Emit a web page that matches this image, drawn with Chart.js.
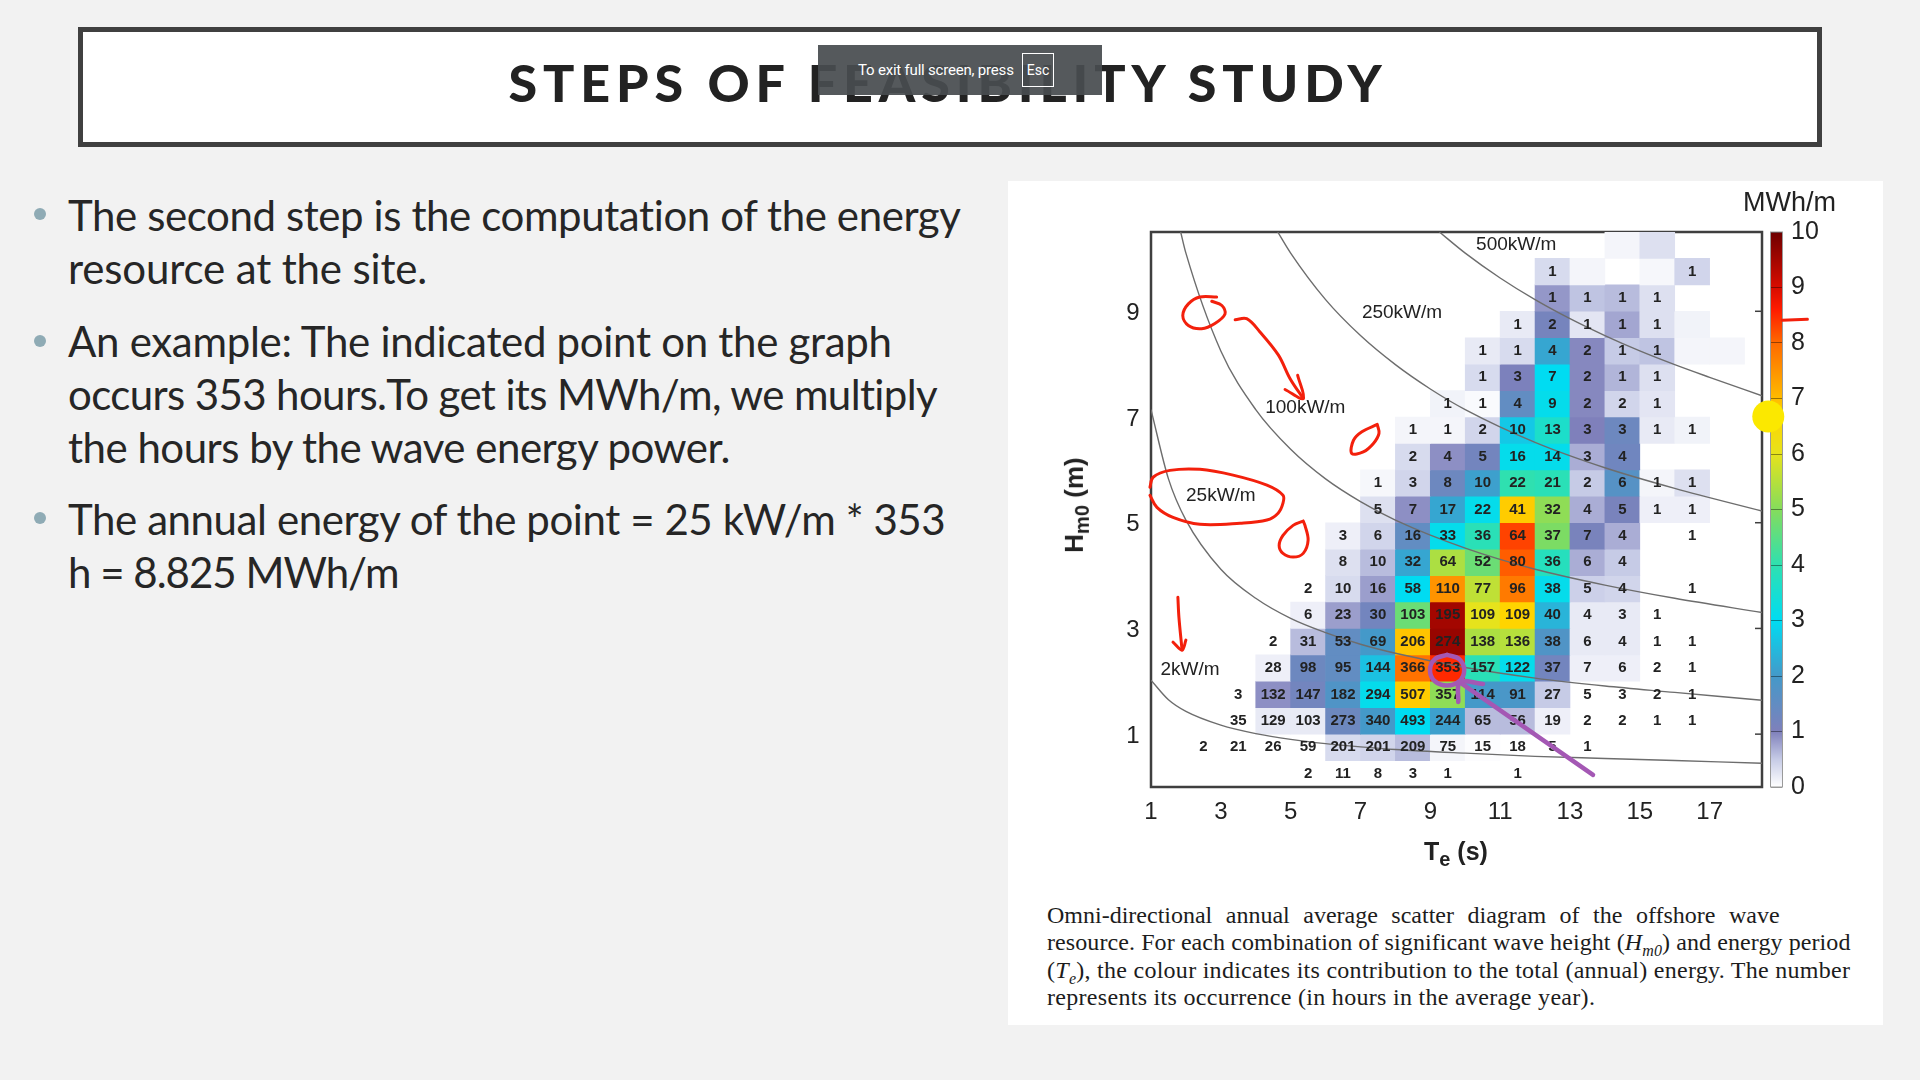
<!DOCTYPE html>
<html lang="en">
<head>
    <meta charset="UTF-8">
    <title>Steps of Feasibility Study</title>
    <style>
        html, body {
            margin: 0;
            width: 1920px;
            height: 1080px;
            overflow: hidden;
            background-color: #f2f2f2;
            font-family: 'Lato', sans-serif;
            color: #262626;
        }
        .abs { position: absolute; white-space: nowrap; }
        #titleBox {
            left: 78px; top: 27px; width: 1734px; height: 110px;
            border: 5px solid #404040;
            background-color: #fff;
        }
        #title {
            left: 0; width: 1896px; top: 56px;
            text-align: center;
            font-size: 52px; font-weight: 900; letter-spacing: 5.9px; line-height: 52px;
            color: #222;
        }
        #exitBar {
            left: 818px; top: 45px; width: 284px; height: 50px;
            background-color: rgba(72, 76, 80, 0.93);
            color: #fff; font-size: 15px; line-height: 50px;
            font-family: 'Roboto', sans-serif;
        }
        #exitBar span { position: absolute; left: 40px; letter-spacing: -0.2px; }
        #exitBar b {
            position: absolute; left: 204px; top: 8px; width: 30px; height: 32px;
            border: 1px solid #fff; font-weight: normal; text-align: center; line-height: 32px; font-size: 14px;
        }
        .line { left: 68px; font-size: 42px; line-height: 42px; }
        .dot { width: 12px; height: 12px; left: 34px; border-radius: 50%; background-color: #8fabb5; }
        #panel { left: 1008px; top: 181px; width: 875px; height: 844px; background-color: #fff; }
        #cellChartBox { left: 1008px; top: 181px; width: 875px; height: 660px; z-index: 3; }
        #barChartBox { left: 1765px; top: 182px; width: 80px; height: 655px; z-index: 2; }
        .axisText { font-family: 'Liberation Sans', sans-serif; z-index: 4; color: #222; }
        .cap {
            left: 1047px; font-family: 'Liberation Serif', serif; font-size: 24px; line-height: 24px;
            color: #1c1c1c; z-index: 4;
        }
        .cap sub { font-size: 16px; line-height: 0; }
    </style>
    <script src="https://cdn.jsdelivr.net/npm/chart.js"></script>
</head>
<body>
    <div class="abs" id="titleBox"></div>
    <div class="abs" id="title">STEPS OF FEASIBILITY STUDY</div>
    <div class="abs" id="exitBar"><span>To exit full screen, press</span><b>Esc</b></div>

    <div class="abs dot" style="top:208px"></div>
    <div class="abs line" style="top:194px;letter-spacing:-0.4px">The second step is the computation of the energy</div>
    <div class="abs line" style="top:247px;letter-spacing:-0.15px">resource at the site.</div>
    <div class="abs dot" style="top:335px"></div>
    <div class="abs line" style="top:320px;letter-spacing:-0.3px">An example: The indicated point on the graph</div>
    <div class="abs line" style="top:373px;letter-spacing:-0.62px">occurs 353 hours.<span style="margin-left:-9px"> </span>To get its MWh/m, we multiply</div>
    <div class="abs line" style="top:426px;letter-spacing:-0.5px">the hours by the wave energy power.</div>
    <div class="abs dot" style="top:512px"></div>
    <div class="abs line" style="top:498px;letter-spacing:-0.42px">The annual energy of the point = 25 kW/m * 353</div>
    <div class="abs line" style="top:551px;letter-spacing:-1px">h = 8.825 MWh/m</div>

    <div class="abs" id="panel"></div>
    <div class="abs" id="barChartBox"><canvas id="barChart" width="80" height="655"></canvas></div>
    <div class="abs" id="cellChartBox"><canvas id="cellChart" width="875" height="660"></canvas></div>

    <div class="abs axisText" style="left:1743px;top:187px;font-size:27px;line-height:30px">MWh/m</div>
    <div class="abs axisText" style="left:1424px;top:836px;font-size:25px;line-height:30px;font-weight:bold">T<sub style="font-size:20px;position:relative;top:6px;vertical-align:baseline">e</sub> (s)</div>
    <div class="abs axisText" style="left:1018px;top:486px;width:120px;text-align:center;font-size:26px;line-height:30px;font-weight:bold;transform:rotate(-90deg)">H<sub style="font-size:20px">m0</sub> (m)</div>

    <div class="abs cap" style="top:903px;word-spacing:7.5px">Omni-directional annual average scatter diagram of the offshore wave</div>
    <div class="abs cap" style="top:930px;letter-spacing:0.09px">resource. For each combination of significant wave height (<i>H<sub>m0</sub></i>) and energy period</div>
    <div class="abs cap" style="top:958px;letter-spacing:0.27px">(<i>T<sub>e</sub></i>), the colour indicates its contribution to the total (annual) energy. The number</div>
    <div class="abs cap" style="top:985px;letter-spacing:0.3px">represents its occurrence (in hours in the average year).</div>

    <script>
        const _ = null;

        // energy period bins (centres) and wave height bins (centres), top row first
        const periods = [1.5, 2.5, 3.5, 4.5, 5.5, 6.5, 7.5, 8.5, 9.5, 10.5, 11.5, 12.5, 13.5, 14.5, 15.5, 16.5, 17.5];
        const heights = [10.25, 9.75, 9.25, 8.75, 8.25, 7.75, 7.25, 6.75, 6.25, 5.75, 5.25, 4.75, 4.25, 3.75, 3.25, 2.75, 2.25, 1.75, 1.25, 0.75, 0.25];

        // occurrence in hours, printed in the cells
        const hours = [
            [_, _, _, _, _, _, _, _, _, _, _, _, _, _, _, _, _],
            [_, _, _, _, _, _, _, _, _, _, _, 1, _, _, _, 1, _],
            [_, _, _, _, _, _, _, _, _, _, _, 1, 1, 1, 1, _, _],
            [_, _, _, _, _, _, _, _, _, _, 1, 2, 1, 1, 1, _, _],
            [_, _, _, _, _, _, _, _, _, 1, 1, 4, 2, 1, 1, _, _],
            [_, _, _, _, _, _, _, _, _, 1, 3, 7, 2, 1, 1, _, _],
            [_, _, _, _, _, _, _, _, 1, 1, 4, 9, 2, 2, 1, _, _],
            [_, _, _, _, _, _, _, 1, 1, 2, 10, 13, 3, 3, 1, 1, _],
            [_, _, _, _, _, _, _, 2, 4, 5, 16, 14, 3, 4, _, _, _],
            [_, _, _, _, _, _, 1, 3, 8, 10, 22, 21, 2, 6, 1, 1, _],
            [_, _, _, _, _, _, 5, 7, 17, 22, 41, 32, 4, 5, 1, 1, _],
            [_, _, _, _, _, 3, 6, 16, 33, 36, 64, 37, 7, 4, _, 1, _],
            [_, _, _, _, _, 8, 10, 32, 64, 52, 80, 36, 6, 4, _, _, _],
            [_, _, _, _, 2, 10, 16, 58, 110, 77, 96, 38, 5, 4, _, 1, _],
            [_, _, _, _, 6, 23, 30, 103, 195, 109, 109, 40, 4, 3, 1, _, _],
            [_, _, _, 2, 31, 53, 69, 206, 274, 138, 136, 38, 6, 4, 1, 1, _],
            [_, _, _, 28, 98, 95, 144, 366, 353, 157, 122, 37, 7, 6, 2, 1, _],
            [_, _, 3, 132, 147, 182, 294, 507, 357, 114, 91, 27, 5, 3, 2, 1, _],
            [_, _, 35, 129, 103, 273, 340, 493, 244, 65, 56, 19, 2, 2, 1, 1, _],
            [_, 2, 21, 26, 59, 201, 201, 209, 75, 15, 18, 5, 1, _, _, _, _],
            [_, _, _, _, 2, 11, 8, 3, 1, _, 1, _, _, _, _, _, _]
        ];

        // contribution to annual energy in MWh/m
        const energy = [
            [_, _, _, _, _, _, _, _, _, _, _, _, _, 0.1, 0.3, _, _],
            [_, _, _, _, _, _, _, _, _, _, _, 0.35, 0.1, _, 0.08, 0.4, _],
            [_, _, _, _, _, _, _, _, _, _, _, 0.85, 0.55, 0.6, 0.3, _, _],
            [_, _, _, _, _, _, _, _, _, _, 0.2, 1.15, 0.25, 0.75, 0.3, 0.12, _],
            [_, _, _, _, _, _, _, _, _, 0.2, 0.35, 2.2, 0.95, 0.5, 0.55, 0.1, 0.1],
            [_, _, _, _, _, _, _, _, _, 0.35, 1.05, 3.0, 0.95, 0.65, 0.3, _, _],
            [_, _, _, _, _, _, _, _, 0.12, 0.05, 1.5, 3.1, 0.95, 0.4, 0.25, _, _],
            [_, _, _, _, _, _, _, 0.1, 0.1, 0.4, 2.7, 3.6, 1.0, 1.3, 0.2, 0.12, _],
            [_, _, _, _, _, _, _, 0.35, 0.9, 1.2, 3.1, 3.1, 0.7, 1.25, _, _, _],
            [_, _, _, _, _, _, 0.08, 0.4, 1.3, 2.1, 4.0, 3.9, 0.5, 1.7, 0.1, 0.3, _],
            [_, _, _, _, _, _, 0.3, 0.9, 2.2, 3.1, 6.8, 5.1, 0.7, 1.1, 0.15, 0.15, _],
            [_, _, _, _, _, 0.15, 0.4, 1.5, 3.1, 3.9, 8.3, 4.9, 1.1, 0.7, _, _, _],
            [_, _, _, _, _, 0.3, 0.6, 2.2, 5.4, 4.7, 8.1, 3.8, 0.7, 0.5, _, _, _],
            [_, _, _, _, _, 0.35, 0.8, 3.0, 7.5, 5.6, 7.8, 3.1, 0.45, 0.4, _, _, _],
            [_, _, _, _, 0.15, 0.8, 1.2, 4.7, 9.5, 6.0, 6.7, 2.4, 0.2, 0.2, _, _, _],
            [_, _, _, _, 0.6, 1.5, 2.0, 6.9, 9.6, 5.4, 5.5, 1.8, 0.2, 0.2, _, _, _],
            [_, _, _, 0.15, 1.3, 1.5, 2.6, 7.9, 8.5, 3.9, 3.1, 1.2, 0.15, 0.15, _, _, _],
            [_, _, _, 0.9, 1.2, 1.8, 3.1, 6.8, 5.1, 2.0, 1.9, 0.5, _, _, _, _, _],
            [_, _, _, 0.2, 0.2, 1.3, 2.0, 3.0, 2.1, 0.6, 0.6, 0.15, _, _, _, _, _],
            [_, _, _, _, _, 0.35, 0.4, 0.6, 0.1, 0.03, _, _, _, _, _, _, _],
            [_, _, _, _, _, _, _, _, _, _, _, _, _, _, _, _, _]
        ];

        const xTicks = [1, 3, 5, 7, 9, 11, 13, 15, 17];
        const yTicks = [1, 3, 5, 7, 9];
        const barTicks = [0, 1, 2, 3, 4, 5, 6, 7, 8, 9, 10];

        // colour scale of the bar on the right
        const scaleValues = [0, 0.5, 1, 2, 3, 4, 5, 6, 6.7, 8, 8.6, 9, 10];
        const scaleColors = ['#ffffff', '#c6cbe6', '#7f80bb', '#4499c9', '#00dcf2', '#2fe0b0', '#85dc5c', '#e6e31c', '#ffd400', '#ff6a00', '#ff1c00', '#d80c00', '#6e0000'];

        // iso-power curves as [Te, Hm0]
        const curveNames = ['2kW/m', '25kW/m', '100kW/m', '250kW/m', '500kW/m'];
        const curve2 = [[1, 2.02], [1.5, 1.65], [2, 1.43], [3, 1.17], [4, 1.01], [5, 0.90], [6, 0.82], [7, 0.76], [8, 0.71], [10, 0.64], [12, 0.58], [14, 0.54], [16, 0.50], [18.5, 0.45]];
        const curve25 = [[1, 7.14], [1.5, 5.83], [2, 5.05], [3, 4.12], [4, 3.57], [5, 3.19], [6, 2.92], [7, 2.70], [8, 2.53], [10, 2.26], [12, 2.06], [14, 1.91], [16, 1.79], [18.5, 1.64]];
        const curve100 = [[1.85, 10.5], [2, 10.1], [3, 8.25], [4, 7.14], [5, 6.39], [6, 5.83], [7, 5.40], [8, 5.05], [10, 4.52], [12, 4.12], [14, 3.82], [16, 3.57], [18.5, 3.30]];
        const curve250 = [[4.63, 10.5], [5, 10.1], [6, 9.22], [7, 8.54], [8, 7.99], [9, 7.53], [10, 7.14], [12, 6.52], [14, 6.04], [16, 5.65], [18.5, 5.22]];
        const curve500 = [[9.26, 10.5], [10, 10.1], [11, 9.63], [12, 9.22], [13, 8.86], [14, 8.54], [15, 8.25], [16, 7.99], [17, 7.75], [18.5, 7.40]];

        // where the curve names sit, [Te, Hm0], same order as curveNames
        const curveNameSpots = [[2.12, 2.22], [3.0, 5.51], [5.42, 7.18], [8.19, 8.98], [11.46, 10.25]];

        // pen marks made on the slide
        const redInk = [
            [[2.88, 9.27], [2.40, 9.27], [2.07, 9.14], [1.91, 8.92], [2.07, 8.73], [2.45, 8.67], [2.83, 8.77], [3.12, 8.95], [3.03, 9.11], [2.74, 9.19]],
            [[3.41, 8.84], [3.74, 8.86], [4.12, 8.61], [4.65, 8.17], [4.98, 7.73], [5.36, 7.35]],
            [[4.84, 7.52], [5.36, 7.35], [5.20, 7.79]],
            [[7.48, 6.86], [7.04, 6.72], [6.80, 6.56], [6.75, 6.31], [7.08, 6.34], [7.37, 6.50], [7.53, 6.69], [7.48, 6.86]],
            [[0.97, 5.67], [1.06, 5.86], [1.54, 5.99], [2.40, 6.01], [3.35, 5.90], [4.32, 5.71], [4.78, 5.52], [4.78, 5.37], [4.64, 5.18], [4.32, 5.05], [3.55, 4.99], [2.40, 4.97], [1.63, 5.10], [1.17, 5.29], [0.97, 5.52]],
            [[5.36, 5.03], [5.07, 4.95], [4.78, 4.76], [4.67, 4.57], [4.78, 4.42], [5.07, 4.35], [5.36, 4.42], [5.50, 4.67], [5.41, 4.95], [5.36, 5.03]],
            [[1.77, 3.59], [1.80, 3.21], [1.89, 2.59]],
            [[1.63, 2.74], [1.89, 2.59], [2.00, 2.78]],
            [[19.08, 8.83], [19.8, 8.85]]
        ];
        const purpleInk = [
            [[9.48, 2.50], [9.83, 2.42], [9.97, 2.21], [9.83, 2.0], [9.48, 1.92], [9.13, 2.0], [8.99, 2.21], [9.13, 2.42], [9.48, 2.50]],
            [[13.66, 0.23], [9.85, 1.98]],
            [[9.80, 1.61], [9.85, 1.98], [10.51, 1.95]]
        ];
        const laserDot = [18.68, 7.01];

        function toPoints(list) {
            return list.map(p => ({ x: p[0], y: p[1] }));
        }

        // look up a cell colour on the colour scale
        function colourFor(value) {
            let i = 0;
            while (i < scaleValues.length - 2 && value > scaleValues[i + 1]) i++;
            const t = (value - scaleValues[i]) / (scaleValues[i + 1] - scaleValues[i]);
            const a = parseInt(scaleColors[i].slice(1), 16);
            const b = parseInt(scaleColors[i + 1].slice(1), 16);
            const mix = shift => Math.round(((a >> shift) & 255) * (1 - t) + ((b >> shift) & 255) * t);
            return `rgb(${mix(16)},${mix(8)},${mix(0)})`;
        }

        // one bar dataset per wave height row
        const cellDatasets = heights.map((h, r) => {
            const cells = [];
            periods.forEach((t, c) => {
                if (energy[r][c] !== null) cells.push({ x: t, y: [h - 0.25, h + 0.25], e: energy[r][c] });
            });
            return {
                type: 'bar',
                data: cells,
                order: 5,
                grouped: false,
                barPercentage: 1,
                categoryPercentage: 1,
                backgroundColor: cells.map(cell => colourFor(cell.e)),
                borderWidth: 0
            };
        });

        const curveDatasets = [curve2, curve25, curve100, curve250, curve500].map(curve => ({
            type: 'line',
            data: toPoints(curve),
            order: 4,
            borderColor: '#6d6d6d',
            borderWidth: 1.4,
            pointRadius: 0,
            cubicInterpolationMode: 'monotone'
        }));

        function inkDataset(stroke, colour, width) {
            return {
                type: 'line',
                data: toPoints(stroke),
                order: 1,
                clip: false,
                borderColor: colour,
                borderWidth: width,
                pointRadius: 0,
                tension: 0.35,
                borderCapStyle: 'round',
                borderJoinStyle: 'round'
            };
        }

        const inkDatasets = [
            ...redInk.map(stroke => inkDataset(stroke, '#f3200c', 3)),
            ...purpleInk.map(stroke => inkDataset(stroke, '#a458b4', 4.5)),
            {
                type: 'line', data: toPoints([laserDot]), order: 0, clip: false, showLine: false,
                pointRadius: 16, pointBackgroundColor: '#fbe800', pointBorderWidth: 0
            },
            {
                type: 'line', data: toPoints([laserDot]), order: -1, clip: false, showLine: false,
                pointRadius: 2, pointBackgroundColor: '#d81818', pointBorderWidth: 0
            }
        ];

        // numbers and curve names go on right after the curves, under the pen marks
        const cellText = {
            id: 'cellText',
            afterDatasetDraw(chart, args) {
                if (args.index !== heights.length) return;
                const c = chart.ctx;
                const { x, y } = chart.scales;
                c.save();
                c.textAlign = 'center';
                c.textBaseline = 'middle';
                c.fillStyle = '#222';
                c.font = 'bold 15px "Liberation Sans"';
                heights.forEach((h, r) => {
                    periods.forEach((t, i) => {
                        if (hours[r][i] !== null) c.fillText(hours[r][i], x.getPixelForValue(t), y.getPixelForValue(h));
                    });
                });
                c.font = '19px "Liberation Sans"';
                curveNames.forEach((name, i) => {
                    c.fillText(name, x.getPixelForValue(curveNameSpots[i][0]), y.getPixelForValue(curveNameSpots[i][1]));
                });
                c.restore();
            }
        };

        // box around the plot and the small inward ticks on its right side
        const plotFrame = {
            id: 'plotFrame',
            beforeDatasetsDraw(chart) {
                const c = chart.ctx;
                const area = chart.chartArea;
                c.save();
                c.strokeStyle = '#3f3f3f';
                c.lineWidth = 1.5;
                yTicks.forEach(v => {
                    const py = chart.scales.y.getPixelForValue(v);
                    c.beginPath();
                    c.moveTo(area.right - 7, py);
                    c.lineTo(area.right, py);
                    c.stroke();
                });
                c.lineWidth = 2.5;
                c.strokeRect(area.left, area.top, area.width, area.height);
                c.restore();
            }
        };

        Chart.defaults.font.family = '"Liberation Sans"';
        Chart.defaults.color = '#222';

        new Chart(document.getElementById('cellChart'), {
            type: 'bar',
            data: { datasets: [...cellDatasets, ...curveDatasets, ...inkDatasets] },
            plugins: [cellText, plotFrame],
            options: {
                responsive: false,
                animation: false,
                events: [],
                layout: { padding: { left: 103, right: 121, top: 51, bottom: 10 } },
                plugins: { legend: { display: false }, tooltip: { enabled: false } },
                scales: {
                    x: {
                        type: 'linear',
                        offset: false,
                        min: 1,
                        max: 18.5,
                        grid: { display: false, offset: false },
                        border: { display: false },
                        ticks: { font: { size: 24 }, padding: 3, maxRotation: 0, autoSkip: false },
                        afterBuildTicks: scale => { scale.ticks = xTicks.map(v => ({ value: v })); },
                        afterFit: scale => { scale.height = 44; }
                    },
                    y: {
                        type: 'linear',
                        min: 0,
                        max: 10.5,
                        grid: { display: false },
                        border: { display: false },
                        ticks: { font: { size: 24 }, padding: 3.5, labelOffset: 2, autoSkip: false },
                        afterBuildTicks: scale => { scale.ticks = yTicks.map(v => ({ value: v })); },
                        afterFit: scale => { scale.width = 40; }
                    }
                }
            }
        });

        // colour bar, one floating bar filled with the colour scale
        new Chart(document.getElementById('barChart'), {
            type: 'bar',
            data: {
                labels: ['MWh/m'],
                datasets: [{
                    data: [[barTicks[0], barTicks[barTicks.length - 1]]],
                    barPercentage: 1,
                    categoryPercentage: 1,
                    borderWidth: 0,
                    backgroundColor(ctx) {
                        const { chartArea, scales } = ctx.chart;
                        if (!chartArea) return '#fff';
                        const g = ctx.chart.ctx.createLinearGradient(0, scales.y.getPixelForValue(0), 0, scales.y.getPixelForValue(10));
                        scaleValues.forEach((v, i) => g.addColorStop(v / 10, scaleColors[i]));
                        return g;
                    }
                }]
            },
            plugins: [{
                id: 'barFrame',
                afterDraw(chart) {
                    const area = chart.chartArea;
                    chart.ctx.save();
                    chart.ctx.strokeStyle = '#9a9a9a';
                    chart.ctx.lineWidth = 1;
                    chart.ctx.strokeRect(area.left - 0.5, area.top, area.width + 1, area.height);
                    chart.ctx.restore();
                }
            }],
            options: {
                responsive: false,
                animation: false,
                events: [],
                layout: { padding: { left: 6, right: 0, top: 50, bottom: 50 } },
                plugins: { legend: { display: false }, tooltip: { enabled: false } },
                scales: {
                    x: { display: false },
                    y: {
                        position: 'right',
                        min: 0,
                        max: 10,
                        grid: { z: 1, color: 'rgba(0,0,0,0.4)', lineWidth: 1, drawTicks: false },
                        border: { display: false },
                        ticks: { font: { size: 25 }, padding: 9, stepSize: 1, autoSkip: false },
                        afterBuildTicks: scale => { scale.ticks = barTicks.map(v => ({ value: v })); },
                        afterFit: scale => { scale.width = 63; }
                    }
                }
            }
        });
    </script>
</body>
</html>
